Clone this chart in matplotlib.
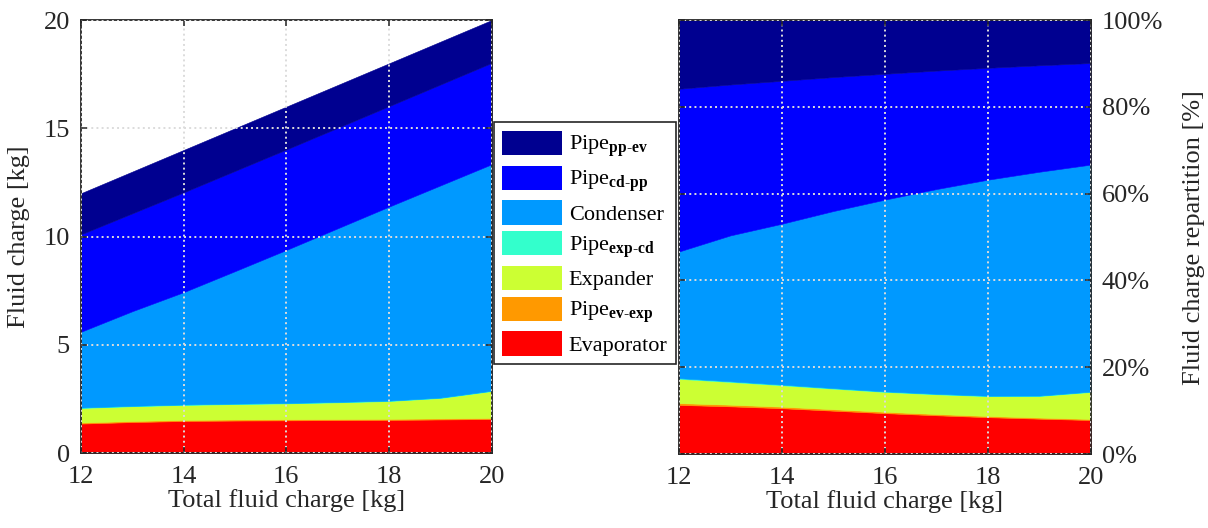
import numpy as np
import matplotlib
matplotlib.use("Agg")
import matplotlib.pyplot as plt
from matplotlib.patches import Patch

# -----------------------------
# Data
# -----------------------------
total_charge = [12, 13, 14, 15, 16, 17, 18, 19, 20]

evaporator = [1.36, 1.43, 1.48, 1.50, 1.51, 1.52, 1.53, 1.55, 1.57]
pipe_ev_exp = [0.05, 0.05, 0.05, 0.05, 0.05, 0.05, 0.05, 0.05, 0.05]
expander = [0.67, 0.68, 0.69, 0.71, 0.73, 0.77, 0.82, 0.94, 1.24]
pipe_exp_cd = [0.02, 0.02, 0.02, 0.02, 0.02, 0.02, 0.02, 0.02, 0.02]
condenser = [3.50, 4.37, 5.19, 6.12, 7.07, 8.02, 8.96, 9.80, 10.46]
pipe_cd_pp = [4.50, 4.52, 4.61, 4.63, 4.64, 4.64, 4.64, 4.66, 4.68]
pipe_pp_ev = [1.90, 1.93, 1.96, 1.97, 1.98, 1.98, 1.98, 1.98, 1.98]

labels = [
    "Evaporator",
    r"Pipe$_{\mathbf{ev\text{-}exp}}$",
    "Expander",
    r"Pipe$_{\mathbf{exp\text{-}cd}}$",
    "Condenser",
    r"Pipe$_{\mathbf{cd\text{-}pp}}$",
    r"Pipe$_{\mathbf{pp\text{-}ev}}$",
]
colors = ["#FF0000", "#FF9900", "#CCFF33", "#33FFCC", "#0099FF", "#0000FF", "#000090"]

# -----------------------------
# Style
# -----------------------------
plt.rcParams["font.family"] = ["Liberation Serif", "DejaVu Serif"]
plt.rcParams["mathtext.fontset"] = "custom"
plt.rcParams["mathtext.rm"] = "Liberation Serif"
plt.rcParams["mathtext.bf"] = "Liberation Serif:bold"
plt.rcParams["mathtext.it"] = "Liberation Serif:italic"

FS = 19
INK = "#262626"

x = np.array(total_charge)
parts = np.array([evaporator, pipe_ev_exp, expander, pipe_exp_cd,
                  condenser, pipe_cd_pp, pipe_pp_ev])
shares = parts / parts.sum(axis=0) * 100

fig = plt.figure(figsize=(12.08, 5.28), dpi=100)
ax1 = fig.add_axes([0.067, 0.142, 0.340, 0.820])
ax2 = fig.add_axes([0.562, 0.140, 0.341, 0.822])


def stacked(ax, data):
    bottom = np.zeros(len(x))
    for vals, c in zip(data, colors):
        top = bottom + vals
        ax.fill_between(x, bottom, top, facecolor=c, edgecolor=c, linewidth=0.4)
        bottom = top


def style(ax):
    ax.set_xlim(12, 20)
    ax.set_xticks([12, 14, 16, 18, 20])
    ax.grid(True, linestyle=":", color="#dcdcdc", linewidth=1.4)
    ax.set_axisbelow(False)
    ax.tick_params(direction="in", length=4, width=1.1, labelsize=FS,
                   top=True, right=True, colors=INK, labelcolor=INK)
    ax.tick_params(axis="x", pad=9)
    ax.tick_params(axis="y", pad=8)
    for s in ax.spines.values():
        s.set_linewidth(1.3)
        s.set_color(INK)
    ax.set_xlabel("Total fluid charge [kg]", fontsize=FS, color=INK, labelpad=1)


# -----------------------------
# Left: absolute charge
# -----------------------------
stacked(ax1, parts)
style(ax1)
ax1.set_ylim(0, 20)
ax1.set_yticks([0, 5, 10, 15, 20])
ax1.set_ylabel("Fluid charge [kg]", fontsize=FS, color=INK, labelpad=10)

# -----------------------------
# Right: repartition in %
# -----------------------------
stacked(ax2, shares)
style(ax2)
ax2.set_ylim(0, 100)
ax2.set_yticks([0, 20, 40, 60, 80, 100])
ax2.set_yticklabels(["0%", "20%", "40%", "60%", "80%", "100%"])
ax2.yaxis.tick_right()
ax2.tick_params(axis="y", left=True, right=True)
ax2.yaxis.set_label_position("right")
ax2.set_ylabel("Fluid charge repartition [%]", fontsize=FS, color=INK, labelpad=14)

# -----------------------------
# Legend (top to bottom)
# -----------------------------
handles = [Patch(facecolor=c, edgecolor="none") for c in colors][::-1]
leg = fig.legend(handles, labels[::-1], loc="center",
                 bbox_to_anchor=(0.484, 0.539), fontsize=16,
                 handlelength=2.7, handleheight=1.3, handletextpad=0.3,
                 labelspacing=0.28, borderpad=0.38, fancybox=False,
                 framealpha=1, edgecolor=INK)
leg.get_frame().set_linewidth(1.2)
for t in leg.get_texts():
    t.set_color("black")

fig.savefig("out.png", dpi=100)
